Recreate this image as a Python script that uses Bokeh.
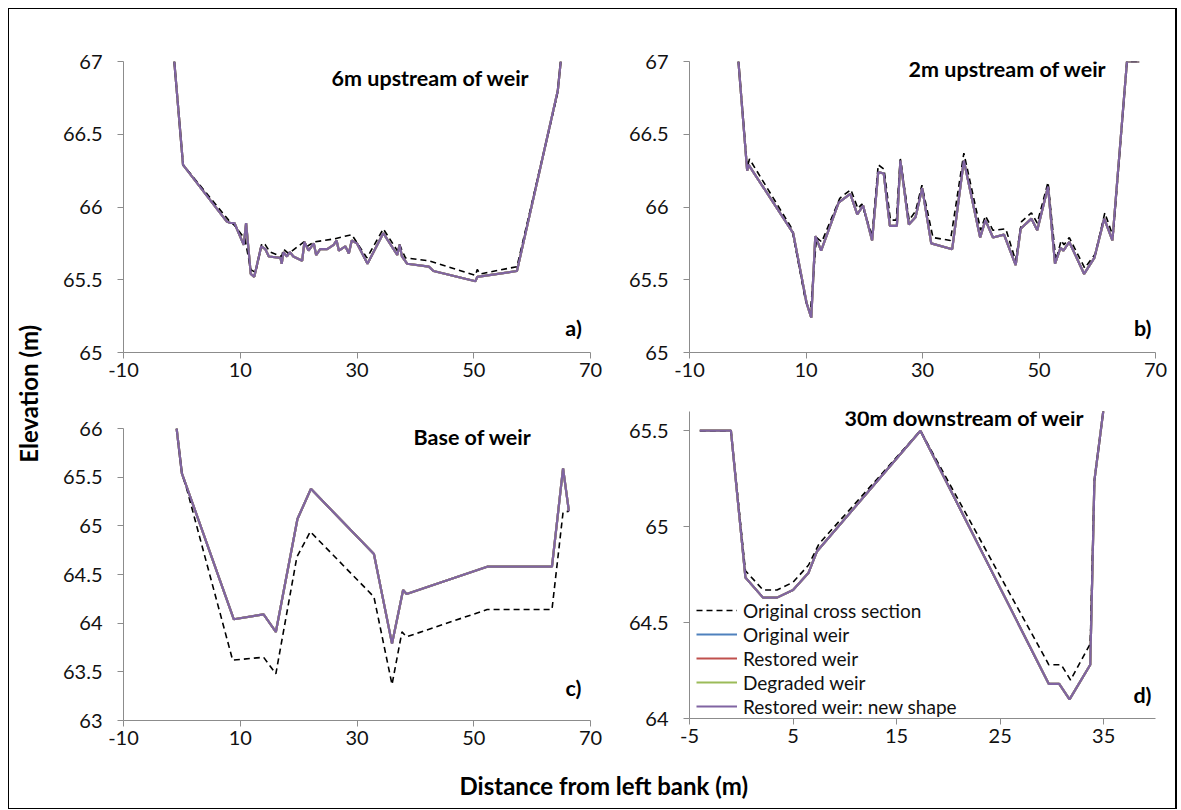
from bokeh.plotting import figure
from bokeh.layouts import row, column
from bokeh.models import (Range1d, FixedTicker, Label, Legend, LegendItem,
                          CustomJSTickFormatter)
from bokeh.embed import file_html
from bokeh.resources import INLINE

# ---------------- data ----------------
series_names = ["Original cross section", "Original weir", "Restored weir",
                "Degraded weir", "Restored weir: new shape"]

# a) 6m upstream of weir
a_orig_x = [-1.3, 0.2, 8.0, 9.1, 10.8, 11.8, 12.6, 13.7, 14.3, 15.1, 17.1, 17.4, 18.3,
            20.9, 21.5, 22.6, 26.0, 29.1, 31.7, 34.5, 36.9, 37.3, 38.3, 42.3, 50.3,
            50.6, 51.1, 57.4, 64.3, 64.9]
a_orig_y = [67.0, 66.29, 65.91, 65.87, 65.78, 65.57, 65.55, 65.75, 65.74, 65.69, 65.66,
            65.71, 65.68, 65.76, 65.73, 65.76, 65.78, 65.81, 65.65, 65.85, 65.70, 65.74,
            65.65, 65.63, 65.53, 65.57, 65.54, 65.59, 66.77, 67.0]
a_weir_x = [-1.3, 0.2, 7.7, 8.3, 9.0, 10.6, 11.0, 11.8, 12.4, 13.6, 14.3, 14.9, 16.9,
            17.1, 17.4, 18.0, 18.5, 19.1, 20.6, 21.0, 21.7, 22.6, 23.0, 23.7, 24.9, 26.0,
            26.5, 26.9, 28.0, 28.6, 29.1, 30.0, 31.8, 34.5, 36.9, 37.3, 37.7, 38.6, 42.3,
            43.1, 50.3, 50.6, 57.4, 64.4, 64.9]
a_weir_y = [67.0, 66.29, 65.90, 65.89, 65.89, 65.74, 65.89, 65.54, 65.52, 65.73, 65.71,
            65.66, 65.65, 65.61, 65.69, 65.66, 65.69, 65.66, 65.63, 65.76, 65.70, 65.75,
            65.67, 65.71, 65.71, 65.74, 65.77, 65.70, 65.73, 65.68, 65.77, 65.75, 65.61,
            65.82, 65.67, 65.74, 65.66, 65.61, 65.59, 65.56, 65.49, 65.52, 65.56, 66.80,
            67.0]

# b) 2m upstream of weir
b_orig_x = [-1.6, -0.1, 0.3, 7.6, 9.9, 10.75, 11.8, 12.7, 15.8, 17.7, 18.9, 19.6, 21.35,
            22.4, 23.4, 24.5, 25.5, 26.2, 27.7, 28.8, 29.9, 31.8, 34.8, 37.1, 40.0, 40.8,
            42.1, 44.3, 46.0, 47.0, 48.7, 49.7, 51.55, 52.9, 53.8, 54.3, 55.2, 57.85, 59.7,
            61.3, 62.7, 65.1, 67.2]
b_orig_y = [67.0, 66.27, 66.33, 65.85, 65.36, 65.27, 65.79, 65.76, 66.06, 66.12, 65.99,
            66.02, 65.80, 66.29, 66.26, 65.91, 65.91, 66.33, 65.91, 65.97, 66.15, 65.79,
            65.77, 66.37, 65.84, 65.94, 65.84, 65.85, 65.63, 65.90, 65.96, 65.89, 66.17,
            65.63, 65.77, 65.74, 65.79, 65.58, 65.68, 65.96, 65.80, 67.0, 67.0]
b_weir_x = [-1.6, -0.1, 0.15, 7.8, 10.1, 10.9, 11.6, 12.6, 15.6, 17.6, 18.8, 19.8, 21.35,
            22.4, 23.35, 24.4, 25.6, 26.2, 27.65, 28.8, 29.95, 31.5, 35.1, 37.1, 39.9,
            40.8, 42.1, 44.0, 46.0, 46.85, 48.7, 49.7, 51.55, 52.75, 53.7, 54.2, 55.2,
            57.75, 59.5, 61.2, 62.6, 65.1, 67.2]
b_weir_y = [67.0, 66.25, 66.29, 65.82, 65.34, 65.24, 65.80, 65.70, 66.03, 66.09, 65.95,
            66.01, 65.77, 66.24, 66.23, 65.87, 65.87, 66.32, 65.88, 65.93, 66.13, 65.75,
            65.71, 66.32, 65.79, 65.91, 65.79, 65.81, 65.60, 65.85, 65.92, 65.84, 66.14,
            65.61, 65.72, 65.70, 65.76, 65.54, 65.65, 65.92, 65.77, 67.0, 67.0]

# c) Base of weir
c_orig_x = [-0.9, 0.0, 0.7, 8.7, 14.0, 16.1, 19.7, 22.0, 32.9, 36.0, 37.7, 38.5, 52.3,
            63.4, 65.3, 66.3]
c_orig_y = [66.0, 65.54, 65.41, 63.62, 63.65, 63.48, 64.68, 64.94, 64.27, 63.37, 63.91,
            63.86, 64.14, 64.14, 65.14, 65.15]
c_weir_x = [-0.9, 0.0, 8.9, 14.0, 16.1, 19.8, 22.1, 32.9, 36.0, 37.9, 38.5, 52.3, 63.4,
            65.3, 66.3]
c_weir_y = [66.0, 65.54, 64.04, 64.09, 63.91, 65.07, 65.38, 64.71, 63.79, 64.34, 64.30,
            64.58, 64.58, 65.59, 65.15]

# d) 30m downstream of weir
d_orig_x = [-4.0, -1.0, 0.4, 2.1, 3.45, 5.0, 6.5, 7.5, 17.3, 29.7, 30.9, 31.8, 33.7,
            34.1, 35.0]
d_orig_y = [65.5, 65.5, 64.77, 64.67, 64.67, 64.71, 64.80, 64.91, 65.50, 64.28, 64.28,
            64.20, 64.39, 65.24, 65.62]
d_weir_x = [-4.0, -1.0, 0.4, 2.1, 3.45, 5.0, 6.5, 7.3, 17.3, 29.7, 30.7, 31.7, 33.7,
            34.1, 35.0]
d_weir_y = [65.5, 65.5, 64.735, 64.63, 64.63, 64.67, 64.76, 64.87, 65.50, 64.18, 64.18,
            64.10, 64.28, 65.24, 65.62]

ticks_x_abc = [-10, 10, 30, 50, 70]
ticks_x_d = [-5, 5, 15, 25, 35]
ticks_y_ab = [65, 65.5, 66, 66.5, 67]
ticks_y_c = [63, 63.5, 64, 64.5, 65, 65.5, 66]
ticks_y_d = [64, 64.5, 65, 65.5]

# ---------------- styling ----------------
FONT = "Lato"
AXIS_COLOR = "#8c8c8c"
COLORS = {"Original weir": "#4F81BD", "Restored weir": "#C0504D",
          "Degraded weir": "#9BBB59", "Restored weir: new shape": "#8064A2"}
WIDTHS = {"Original weir": 2.2, "Restored weir": 2.2,
          "Degraded weir": 2.2, "Restored weir: new shape": 2.2}
fmt = CustomJSTickFormatter(code="return String(tick);")


def make_panel(width, height, xr, yr, xt, yt, borders):
    p = figure(width=width, height=height, x_range=Range1d(*xr), y_range=Range1d(*yr),
               output_backend="svg", toolbar_location=None, title=None,
               min_border_left=borders[0], min_border_right=borders[1],
               min_border_top=borders[2], min_border_bottom=borders[3])
    p.outline_line_color = None
    p.grid.visible = False
    p.background_fill_color = "white"
    p.border_fill_color = "white"
    p.xaxis.ticker = FixedTicker(ticks=xt)
    p.yaxis.ticker = FixedTicker(ticks=yt)
    for ax in (p.xaxis[0], p.yaxis[0]):
        ax.formatter = fmt
        ax.axis_line_color = AXIS_COLOR
        ax.major_tick_line_color = AXIS_COLOR
        ax.major_tick_out = 6
        ax.major_tick_in = 0
        ax.minor_tick_line_color = None
        ax.major_label_text_font = FONT
        ax.major_label_text_font_size = "20px"
        ax.major_label_text_color = "#111111"
    p.yaxis.major_label_standoff = 15
    p.xaxis.major_label_standoff = 4
    return p


def draw(p, ox, oy, wx, wy):
    rs = {}
    for name in series_names[1:]:
        rs[name] = p.line(wx, wy, line_color=COLORS[name], line_width=WIDTHS[name])
    rs[series_names[0]] = p.line(ox, oy, line_color="black", line_width=1.6,
                                 line_dash="6 4")
    # purple on top
    p.renderers.remove(rs["Restored weir: new shape"])
    p.renderers.append(rs["Restored weir: new shape"])
    return rs


def title(p, text, x, y):
    p.add_layout(Label(x=x, y=y, text=text, text_font=FONT, text_font_style="bold",
                       text_font_size="21.5px", text_align="center",
                       text_baseline="middle", text_color="black"))


fa = make_panel(566, 381, (-10, 70), (65, 67), ticks_x_abc, ticks_y_ab, (69, 30, 52, 38))
fb = make_panel(555, 381, (-10, 70), (65, 67), ticks_x_abc, ticks_y_ab, (69, 20, 52, 38))
fc = make_panel(566, 370, (-10, 70), (63, 66), ticks_x_abc, ticks_y_c, (69, 30, 38, 40))
fd = make_panel(555, 370, (-5, 40), (64, 65.6), ticks_x_d, ticks_y_d, (69, 20, 21, 42))

draw(fa, a_orig_x, a_orig_y, a_weir_x, a_weir_y)
draw(fb, b_orig_x, b_orig_y, b_weir_x, b_weir_y)
draw(fc, c_orig_x, c_orig_y, c_weir_x, c_weir_y)
rd = draw(fd, d_orig_x, d_orig_y, d_weir_x, d_weir_y)

title(fa, "6m upstream of weir", 42.6, 66.89)
title(fb, "2m upstream of weir", 44.6, 66.95)
title(fc, "Base of weir", 49.8, 65.91)
title(fd, "30m downstream of weir", 21.55, 65.564)
title(fa, "a)", 67.1, 65.165)
title(fb, "b)", 67.8, 65.165)
title(fc, "c)", 67.1, 63.33)
title(fd, "d)", 38.74, 64.125)

legend = Legend(items=[LegendItem(label=n, renderers=[rd[n]]) for n in series_names],
                location=(7, 0), background_fill_alpha=0, border_line_color=None,
                label_text_font=FONT, label_text_font_size="19px",
                label_text_color="#111111", glyph_width=41, glyph_height=24,
                label_height=24, spacing=0, padding=0, margin=0, label_standoff=6)
fd.add_layout(legend)


def text_fig(width, height, text, x, y, angle):
    p = figure(width=width, height=height, x_range=Range1d(0, 1), y_range=Range1d(0, 1),
               output_backend="svg", toolbar_location=None, x_axis_location=None,
               y_axis_location=None, min_border=0, title=None)
    p.outline_line_color = None
    p.grid.visible = False
    p.add_layout(Label(x=x, y=y, text=text, angle=angle, text_font=FONT,
                       text_font_style="bold", text_font_size="24px",
                       text_align="center", text_baseline="middle", text_color="black"))
    return p


ylab = text_fig(45, 799, "Elevation (m)", 0.42, 0.519, 1.5707963)
xlab = text_fig(1121, 48, "Distance from left bank (m)", 0.49, 0.48, 0)

layout = row(ylab, column(row(column(fa, fc), column(fb, fd)), xlab),
             margin=(8, 0, 0, 8),
             styles={"border": "1px solid black", "border-right": "2px solid black"})

open("out.html", "w").write(file_html(layout, INLINE))
